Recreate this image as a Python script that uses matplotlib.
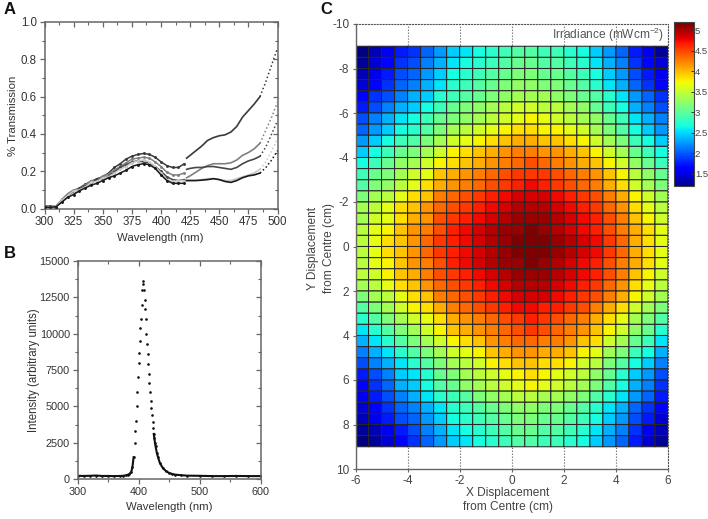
import numpy as np
import matplotlib
matplotlib.use('Agg')
import matplotlib.pyplot as plt
from matplotlib.ticker import MultipleLocator

plt.rcParams['font.family'] = ['Liberation Sans', 'DejaVu Sans']
plt.rcParams['mathtext.default'] = 'regular'
plt.rcParams['axes.unicode_minus'] = False

# panel A, split at the 420 nm step in the data
wl_uv = [300, 305, 310, 315, 320, 325, 330, 335, 340, 345, 350, 355, 360, 365, 370, 375, 380, 385, 390, 395, 400, 405, 410, 415, 420]
wl_vis = [422, 425, 430, 435, 440, 445, 450, 455, 460, 465, 470, 475, 480, 485, 490, 495, 500]

t1_uv = [.012, .012, .012, .045, .075, .095, .11, .13, .145, .16, .17, .19, .22, .24, .265, .28, .29, .295, .29, .275, .25, .23, .22, .22, .24]
t2_uv = [.012, .008, .012, .05, .08, .10, .105, .125, .15, .15, .175, .185, .205, .225, .245, .265, .27, .275, .27, .25, .225, .195, .18, .18, .19]
t3_uv = [.010, .012, .008, .04, .07, .09, .105, .12, .135, .155, .16, .175, .195, .22, .235, .25, .255, .25, .245, .225, .20, .17, .155, .15, .155]
t4_uv = [.008, .01, .012, .045, .07, .095, .10, .115, .14, .145, .165, .17, .19, .21, .225, .245, .255, .26, .25, .225, .19, .155, .145, .15, .15]
t5_uv = [.008, .006, .01, .035, .06, .075, .095, .11, .125, .135, .15, .165, .175, .19, .205, .225, .235, .24, .235, .215, .18, .15, .135, .135, .135]

t1_vis = [.27, .285, .31, .335, .365, .38, .39, .395, .41, .44, .49, .525, .56, .60, .68, .77, .86]
t2_vis = [.165, .175, .195, .215, .23, .24, .24, .24, .245, .26, .285, .30, .32, .35, .42, .49, .57]
t3_vis = [.21, .215, .22, .22, .225, .225, .22, .215, .21, .22, .24, .255, .265, .28, .33, .40, .47]
t4_vis = [.15, .15, .15, .155, .16, .16, .155, .15, .15, .16, .17, .18, .19, .21, .25, .31, .37]
t5_vis = [.15, .15, .15, .152, .155, .16, .155, .145, .14, .15, .165, .175, .18, .19, .22, .26, .31]

trans_uv = [t1_uv, t2_uv, t3_uv, t4_uv, t5_uv]
trans_vis = [t1_vis, t2_vis, t3_vis, t4_vis, t5_vis]
trans_cols = ['#3a3a3a', '#808080', '#484848', '#c8c8c8', '#1a1a1a']

# panel B
wl_b = [300, 310, 320, 330, 340, 350, 360, 370, 375, 380, 383, 385, 388, 390, 392, 394, 395, 396, 397, 398, 399, 400, 401, 402, 403,
        404, 405, 406, 407, 408, 409, 410, 411, 412, 413, 414, 415, 416, 417, 418, 419, 420, 421, 422, 423, 424, 425, 426,
        427, 428, 430, 432, 435, 440, 445, 450, 455, 460, 470, 480, 500, 520, 540, 560, 580, 600]
inten_b = [220, 210, 220, 240, 210, 210, 200, 210, 220, 260, 300, 340, 480, 800, 1500, 2500, 3300, 4000, 5000, 6000, 7000, 8000, 8700, 9500, 10400,
           11000, 12000, 13000, 13600, 13400, 13000, 12300, 11700, 11000, 10000, 9300, 8600, 7900, 7200, 6600, 6000, 5400, 4900, 4400, 3900, 3500, 3100, 2800,
           2500, 2250, 1800, 1500, 1100, 750, 550, 420, 350, 300, 260, 230, 220, 200, 200, 210, 200, 200]

# panel C, irradiance per cell, top row first
x_edges = [-6.0, -5.5, -5.0, -4.5, -4.0, -3.5, -3.0, -2.5, -2.0, -1.5, -1.0, -0.5, 0.0, 0.5, 1.0, 1.5, 2.0, 2.5, 3.0, 3.5, 4.0, 4.5, 5.0, 5.5, 6.0]
y_edges = [-9.0, -8.5, -8.0, -7.5, -7.0, -6.5, -6.0, -5.5, -5.0, -4.5, -4.0, -3.5, -3.0, -2.5, -2.0, -1.5, -1.0, -0.5, 0.0,
           0.5, 1.0, 1.5, 2.0, 2.5, 3.0, 3.5, 4.0, 4.5, 5.0, 5.5, 6.0, 6.5, 7.0, 7.5, 8.0, 8.5, 9.0]
irradiance = [
    [1.2, 1.4, 1.6, 1.8, 1.9, 2.1, 2.3, 2.5, 2.6, 2.7, 2.8, 2.9, 3.0, 3.0, 2.9, 2.9, 2.8, 2.7, 2.5, 2.3, 2.1, 1.8, 1.6, 1.3],
    [1.3, 1.5, 1.7, 1.9, 2.0, 2.2, 2.4, 2.6, 2.7, 2.8, 2.9, 3.0, 3.1, 3.1, 3.0, 3.0, 2.9, 2.8, 2.6, 2.4, 2.2, 1.9, 1.7, 1.5],
    [1.4, 1.6, 1.8, 2.0, 2.1, 2.3, 2.5, 2.7, 2.8, 2.9, 3.0, 3.1, 3.2, 3.2, 3.1, 3.1, 3.0, 2.9, 2.7, 2.5, 2.3, 2.0, 1.8, 1.6],
    [1.5, 1.7, 1.9, 2.1, 2.2, 2.4, 2.6, 2.8, 2.9, 3.0, 3.1, 3.2, 3.3, 3.3, 3.2, 3.2, 3.1, 3.0, 2.8, 2.6, 2.4, 2.1, 1.9, 1.7],
    [1.7, 1.9, 2.0, 2.2, 2.4, 2.5, 2.8, 2.9, 3.0, 3.1, 3.2, 3.3, 3.4, 3.4, 3.4, 3.3, 3.2, 3.1, 3.0, 2.8, 2.6, 2.3, 2.1, 1.9],
    [1.8, 2.0, 2.2, 2.4, 2.5, 2.7, 2.9, 3.1, 3.2, 3.3, 3.4, 3.5, 3.6, 3.6, 3.5, 3.5, 3.4, 3.3, 3.1, 2.9, 2.7, 2.4, 2.2, 2.0],
    [2.0, 2.2, 2.4, 2.6, 2.7, 2.9, 3.1, 3.2, 3.3, 3.4, 3.5, 3.6, 3.7, 3.8, 3.7, 3.6, 3.5, 3.4, 3.3, 3.1, 2.9, 2.6, 2.4, 2.2],
    [2.1, 2.3, 2.5, 2.7, 2.8, 3.0, 3.2, 3.4, 3.5, 3.6, 3.7, 3.8, 3.9, 3.9, 3.8, 3.8, 3.7, 3.6, 3.4, 3.2, 3.0, 2.7, 2.5, 2.3],
    [2.3, 2.5, 2.7, 2.9, 3.0, 3.2, 3.4, 3.6, 3.7, 3.8, 3.9, 4.0, 4.1, 4.1, 4.0, 4.0, 3.9, 3.8, 3.6, 3.4, 3.2, 2.9, 2.7, 2.5],
    [2.5, 2.7, 2.9, 3.1, 3.2, 3.4, 3.6, 3.8, 3.9, 4.0, 4.1, 4.2, 4.3, 4.3, 4.2, 4.2, 4.1, 4.0, 3.8, 3.6, 3.4, 3.1, 2.9, 2.7],
    [2.7, 2.9, 3.1, 3.3, 3.4, 3.6, 3.8, 3.9, 4.0, 4.1, 4.2, 4.3, 4.4, 4.5, 4.4, 4.3, 4.2, 4.1, 4.0, 3.8, 3.6, 3.3, 3.1, 2.9],
    [2.9, 3.1, 3.2, 3.4, 3.6, 3.7, 4.0, 4.1, 4.2, 4.3, 4.4, 4.5, 4.6, 4.6, 4.6, 4.5, 4.4, 4.3, 4.2, 4.0, 3.8, 3.5, 3.3, 3.1],
    [3.0, 3.2, 3.3, 3.5, 3.7, 3.9, 4.1, 4.2, 4.3, 4.4, 4.5, 4.6, 4.7, 4.8, 4.7, 4.6, 4.5, 4.4, 4.3, 4.1, 3.9, 3.6, 3.4, 3.2],
    [3.2, 3.4, 3.5, 3.7, 3.9, 4.0, 4.3, 4.4, 4.5, 4.6, 4.7, 4.8, 4.9, 4.9, 4.9, 4.8, 4.7, 4.6, 4.5, 4.3, 4.1, 3.8, 3.6, 3.4],
    [3.4, 3.5, 3.7, 3.9, 4.0, 4.2, 4.4, 4.5, 4.6, 4.7, 4.8, 4.9, 5.0, 5.0, 5.0, 4.9, 4.8, 4.7, 4.6, 4.4, 4.2, 3.9, 3.7, 3.5],
    [3.4, 3.6, 3.7, 3.9, 4.1, 4.2, 4.5, 4.6, 4.7, 4.8, 4.9, 5.0, 5.1, 5.1, 5.1, 5.0, 4.9, 4.8, 4.7, 4.5, 4.3, 4.0, 3.8, 3.6],
    [3.5, 3.7, 3.8, 4.0, 4.2, 4.3, 4.5, 4.7, 4.8, 4.9, 5.0, 5.1, 5.1, 5.2, 5.1, 5.0, 4.9, 4.8, 4.7, 4.5, 4.3, 4.1, 3.9, 3.7],
    [3.5, 3.7, 3.9, 4.0, 4.2, 4.4, 4.6, 4.7, 4.8, 4.9, 5.0, 5.1, 5.2, 5.2, 5.2, 5.1, 5.0, 4.9, 4.8, 4.6, 4.4, 4.1, 3.9, 3.7],
    [3.5, 3.7, 3.9, 4.0, 4.2, 4.4, 4.6, 4.7, 4.8, 4.9, 5.0, 5.1, 5.2, 5.2, 5.2, 5.1, 5.0, 4.9, 4.8, 4.6, 4.4, 4.1, 3.9, 3.7],
    [3.5, 3.7, 3.8, 4.0, 4.2, 4.3, 4.5, 4.7, 4.8, 4.9, 5.0, 5.1, 5.1, 5.2, 5.1, 5.0, 4.9, 4.8, 4.7, 4.5, 4.3, 4.1, 3.9, 3.7],
    [3.5, 3.6, 3.8, 4.0, 4.1, 4.3, 4.5, 4.6, 4.7, 4.8, 4.9, 5.0, 5.1, 5.1, 5.1, 5.0, 4.9, 4.8, 4.7, 4.5, 4.3, 4.0, 3.8, 3.6],
    [3.4, 3.5, 3.7, 3.9, 4.0, 4.2, 4.4, 4.5, 4.6, 4.7, 4.8, 4.9, 5.0, 5.0, 5.0, 4.9, 4.8, 4.7, 4.6, 4.4, 4.2, 3.9, 3.7, 3.5],
    [3.2, 3.4, 3.5, 3.7, 3.9, 4.0, 4.3, 4.4, 4.5, 4.6, 4.7, 4.8, 4.9, 4.9, 4.9, 4.8, 4.7, 4.6, 4.5, 4.3, 4.1, 3.8, 3.6, 3.4],
    [3.0, 3.2, 3.4, 3.6, 3.8, 3.9, 4.1, 4.3, 4.4, 4.5, 4.6, 4.7, 4.8, 4.8, 4.7, 4.7, 4.6, 4.5, 4.3, 4.1, 3.9, 3.6, 3.4, 3.2],
    [2.8, 3.0, 3.2, 3.4, 3.6, 3.7, 3.9, 4.1, 4.2, 4.3, 4.4, 4.5, 4.6, 4.7, 4.6, 4.5, 4.4, 4.3, 4.1, 3.9, 3.7, 3.4, 3.2, 3.0],
    [2.6, 2.8, 3.0, 3.2, 3.4, 3.6, 3.8, 4.0, 4.1, 4.2, 4.3, 4.4, 4.5, 4.6, 4.5, 4.4, 4.3, 4.2, 4.0, 3.8, 3.6, 3.3, 3.1, 2.8],
    [2.4, 2.6, 2.8, 3.0, 3.2, 3.4, 3.6, 3.8, 3.9, 4.0, 4.2, 4.3, 4.4, 4.4, 4.3, 4.3, 4.2, 4.0, 3.9, 3.6, 3.4, 3.1, 2.9, 2.6],
    [2.2, 2.4, 2.6, 2.8, 3.0, 3.2, 3.4, 3.6, 3.7, 3.8, 4.0, 4.1, 4.2, 4.2, 4.1, 4.1, 4.0, 3.8, 3.7, 3.4, 3.2, 2.9, 2.7, 2.4],
    [2.0, 2.2, 2.4, 2.6, 2.8, 3.0, 3.2, 3.4, 3.5, 3.6, 3.8, 3.9, 4.0, 4.0, 3.9, 3.9, 3.8, 3.6, 3.5, 3.2, 3.0, 2.7, 2.5, 2.2],
    [1.8, 2.0, 2.2, 2.5, 2.6, 2.8, 3.1, 3.2, 3.4, 3.5, 3.6, 3.7, 3.8, 3.9, 3.8, 3.7, 3.6, 3.5, 3.3, 3.1, 2.8, 2.5, 2.3, 2.0],
    [1.7, 1.9, 2.1, 2.4, 2.5, 2.7, 3.0, 3.1, 3.3, 3.4, 3.5, 3.6, 3.7, 3.8, 3.7, 3.6, 3.5, 3.4, 3.2, 3.0, 2.7, 2.4, 2.2, 1.9],
    [1.6, 1.8, 2.0, 2.2, 2.4, 2.6, 2.8, 2.9, 3.0, 3.2, 3.3, 3.4, 3.5, 3.5, 3.4, 3.4, 3.3, 3.2, 3.0, 2.8, 2.6, 2.3, 2.1, 1.8],
    [1.5, 1.7, 1.9, 2.1, 2.2, 2.4, 2.6, 2.8, 2.9, 3.0, 3.1, 3.2, 3.3, 3.3, 3.2, 3.2, 3.1, 3.0, 2.8, 2.6, 2.4, 2.1, 1.9, 1.7],
    [1.4, 1.6, 1.8, 2.0, 2.1, 2.3, 2.5, 2.7, 2.8, 2.9, 3.0, 3.1, 3.2, 3.2, 3.1, 3.1, 3.0, 2.9, 2.7, 2.5, 2.3, 2.0, 1.8, 1.5],
    [1.3, 1.4, 1.6, 1.8, 2.0, 2.2, 2.4, 2.6, 2.7, 2.8, 2.9, 3.0, 3.1, 3.1, 3.0, 3.0, 2.9, 2.8, 2.6, 2.4, 2.2, 1.9, 1.6, 1.4],
    [1.2, 1.3, 1.5, 1.7, 1.9, 2.1, 2.3, 2.5, 2.6, 2.7, 2.8, 2.9, 3.0, 3.0, 2.9, 2.9, 2.8, 2.7, 2.5, 2.3, 2.1, 1.8, 1.5, 1.3],
]

W, H = 708, 519
SPINE = '#666666'
TEXT = '#333333'


def px_axes(left, top, right, bottom):
    return fig.add_axes([left / W, 1 - bottom / H, (right - left) / W, (bottom - top) / H])


def origin_frame(ax, size):
    for s in ax.spines.values():
        s.set_color(SPINE)
        s.set_linewidth(1.1)
    ax.tick_params(which='major', length=3.5, width=0.9, color=SPINE, labelcolor=TEXT, labelsize=size, pad=2)
    ax.tick_params(which='minor', length=2, width=0.8, color=SPINE)
    # ticks on the far sides point inwards, without labels
    ax.tick_params(which='both', top=True, right=True)
    for tick in ax.xaxis.get_major_ticks() + ax.xaxis.get_minor_ticks():
        tick.tick2line.set_marker(3)
    for tick in ax.yaxis.get_major_ticks() + ax.yaxis.get_minor_ticks():
        tick.tick2line.set_marker(0)


fig = plt.figure(figsize=(W / 100, H / 100), dpi=100)

# A
ax_a = px_axes(44.5, 22, 277.5, 208.5)
for uv, vis, col in zip(trans_uv, trans_vis, trans_cols):
    ax_a.plot(wl_uv, uv, color=col, lw=1.1, marker='.', ms=2.2, zorder=3)
    ax_a.plot(wl_vis[:14], vis[:14], color=col, lw=1.2, zorder=3)
    ax_a.plot(wl_vis[13:], vis[13:], color=col, lw=1.1, ls=(0, (1, 1.6)), zorder=3)
ax_a.set_xlim(300, 500)
ax_a.set_ylim(0, 1)
ax_a.set_xticks([300, 325, 350, 375, 400, 425, 450, 475, 500])
ax_a.set_yticks([0, .2, .4, .6, .8, 1.0])
ax_a.xaxis.set_minor_locator(MultipleLocator(12.5))
ax_a.yaxis.set_minor_locator(MultipleLocator(.1))
origin_frame(ax_a, 8.3)

# B
ax_b = px_axes(77.5, 261, 260.5, 479)
wl_b_arr = np.array(wl_b)
inten_b_arr = np.array(inten_b)
left_base = wl_b_arr <= 392
right_base = wl_b_arr >= 425
ax_b.plot(wl_b_arr[left_base], inten_b_arr[left_base], color='#111111', lw=1.5)
ax_b.plot(wl_b_arr[right_base], inten_b_arr[right_base], color='#111111', lw=1.5)
ax_b.plot(wl_b, inten_b, ls='none', marker='.', ms=1.8, color='#111111')
ax_b.set_xlim(300, 600)
ax_b.set_ylim(0, 15000)
ax_b.set_xticks([300, 400, 500, 600])
ax_b.set_yticks([0, 2500, 5000, 7500, 10000, 12500, 15000])
ax_b.xaxis.set_minor_locator(MultipleLocator(50))
ax_b.yaxis.set_minor_locator(MultipleLocator(1250))
origin_frame(ax_b, 7.8)

# C
ax_c = px_axes(355.5, 24, 668, 469)
ax_c.set_axisbelow(True)
mesh = ax_c.pcolormesh(x_edges, y_edges, irradiance, cmap='jet', vmin=1.2, vmax=5.2,
                       edgecolors='#262626', linewidth=0.75, antialiased=True)
mesh.set_snap(False)
ax_c.set_xlim(-6, 6)
ax_c.set_ylim(10, -10)
ax_c.set_xticks([-6, -4, -2, 0, 2, 4, 6])
ax_c.set_yticks([-10, -8, -6, -4, -2, 0, 2, 4, 6, 8, 10])
ax_c.tick_params(length=2.5, width=0.8, color=SPINE, labelcolor='#444444', labelsize=8.5, pad=2)
ax_c.grid(axis='x', color='#555555', ls=':', lw=0.8)
for side in ['left', 'bottom']:
    ax_c.spines[side].set_color(SPINE)
    ax_c.spines[side].set_linewidth(1.0)
for side in ['top', 'right']:
    ax_c.spines[side].set_color('#555555')
    ax_c.spines[side].set_linewidth(0.8)
    ax_c.spines[side].set_linestyle(':')
ax_c.text(5.85, -9.5, 'Irradiance (mWcm$^{-2}$)', ha='right', va='center', fontsize=8.6, color='#555555')

cax = px_axes(673.5, 22, 693.5, 186)
cb = fig.colorbar(mesh, cax=cax)
cb.set_ticks([1.5, 2, 2.5, 3, 3.5, 4, 4.5, 5], labels=['1.5', '2', '2.5', '3', '3.5', '4', '4.5', '5'])
cb.ax.tick_params(direction='in', length=2, width=0.7, color='#333333', labelcolor='#444444', labelsize=6.8, pad=1)
cb.outline.set_edgecolor('#444444')
cb.outline.set_linewidth(0.8)
cb.solids.set_edgecolor('face')

# axis titles sit at fixed spots around the panels
fig.text(160 / W, 1 - 238 / H, 'Wavelength (nm)', ha='center', va='center', fontsize=8.2, color=TEXT)
fig.text(13.5 / W, 1 - 116 / H, '% Transmission', rotation=90, ha='center', va='center', fontsize=8.2, color=TEXT)
fig.text(169 / W, 1 - 507 / H, 'Wavelength (nm)', ha='center', va='center', fontsize=8.2, color=TEXT)
fig.text(33.5 / W, 1 - 370 / H, 'Intensity (arbitrary units)', rotation=90, ha='center', va='center', fontsize=8.3, color=TEXT)
fig.text(508 / W, 1 - 500 / H, 'X Displacement\nfrom Centre (cm)', ha='center', va='center', fontsize=8.6, color='#444444', linespacing=1.3)
fig.text(321 / W, 1 - 248 / H, 'Y Displacement\nfrom Centre (cm)', rotation=90, ha='center', va='center', fontsize=8.6, color='#444444', linespacing=1.55)

for label, lx, ly in [('A', 10, 10), ('B', 10, 254), ('C', 326, 10)]:
    fig.text(lx / W, 1 - ly / H, label, ha='center', va='center', fontsize=12, fontweight='bold', color='#111111')

fig.savefig('out.png', dpi=100)
